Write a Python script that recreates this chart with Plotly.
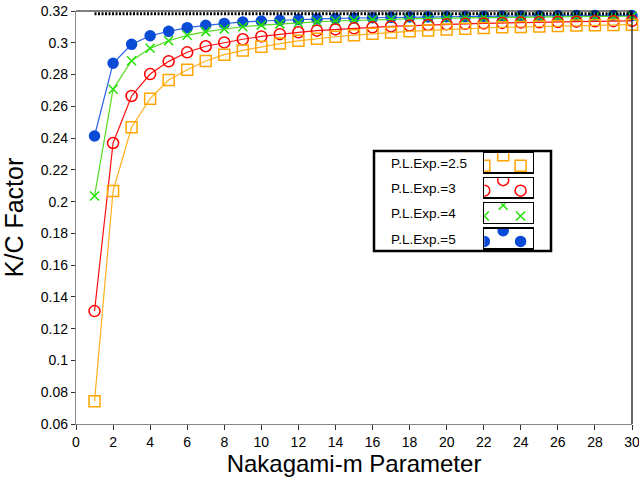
import plotly.graph_objects as go
import math

m_values = list(range(1, 31))

kc_exp_2_5 = [0.0744, 0.2067, 0.2468, 0.2648, 0.2765, 0.2830, 0.2885, 0.2925, 0.2952, 0.2975,
              0.2995, 0.3012, 0.3026, 0.3038, 0.3048, 0.3057, 0.3065, 0.3072, 0.3078, 0.3084,
              0.3089, 0.3093, 0.3097, 0.3100, 0.3103, 0.3106, 0.3108, 0.3110, 0.3112, 0.3114]
kc_exp_3 = [0.1311, 0.2369, 0.2665, 0.2803, 0.2883, 0.2940, 0.2978, 0.3002, 0.3022, 0.3040,
            0.3054, 0.3066, 0.3076, 0.3084, 0.3091, 0.3097, 0.3103, 0.3108, 0.3112, 0.3116,
            0.3119, 0.3122, 0.3125, 0.3127, 0.3129, 0.3131, 0.3133, 0.3135, 0.3136, 0.3138]
kc_exp_4 = [0.2035, 0.2707, 0.2887, 0.2965, 0.3013, 0.3047, 0.3070, 0.3087, 0.3101, 0.3111,
            0.3119, 0.3126, 0.3132, 0.3137, 0.3141, 0.3145, 0.3148, 0.3151, 0.3153, 0.3155,
            0.3157, 0.3158, 0.3160, 0.3161, 0.3162, 0.3163, 0.3164, 0.3165, 0.3166, 0.3167]
kc_exp_5 = [0.2413, 0.2871, 0.2990, 0.3044, 0.3072, 0.3095, 0.3110, 0.3122, 0.3131, 0.3137,
            0.3142, 0.3146, 0.3150, 0.3153, 0.3156, 0.3158, 0.3160, 0.3162, 0.3163, 0.3164,
            0.3165, 0.3166, 0.3167, 0.3168, 0.3169, 0.3170, 0.3171, 0.3171, 0.3172, 0.3172]
bound_x = [1, 30]
bound_y = [1 / math.pi, 1 / math.pi]

series_names = ["P.L.Exp.=2.5", "P.L.Exp.=3", "P.L.Exp.=4", "P.L.Exp.=5"]

x_tick_vals = list(range(0, 31, 2))
x_tick_text = [str(v) for v in x_tick_vals]
y_tick_vals = [0.06, 0.08, 0.1, 0.12, 0.14, 0.16, 0.18, 0.2, 0.22, 0.24, 0.26, 0.28, 0.3, 0.32]
y_tick_text = ["0.06", "0.08", "0.1", "0.12", "0.14", "0.16", "0.18", "0.2", "0.22", "0.24",
               "0.26", "0.28", "0.3", "0.32"]

FONT = "Liberation Sans, Arial, sans-serif"

styles = {
    "P.L.Exp.=2.5": dict(color="#FFA500", line="#FFB020", symbol="square-open", size=11),
    "P.L.Exp.=3": dict(color="#FF0000", line="#FF1010", symbol="circle-open", size=11),
    "P.L.Exp.=4": dict(color="#22E000", line="#55DD22", symbol="x-thin-open", size=9),
    "P.L.Exp.=5": dict(color="#0A4BD6", line="#2D63E6", symbol="circle", size=10),
}
data_map = {
    "P.L.Exp.=2.5": kc_exp_2_5,
    "P.L.Exp.=3": kc_exp_3,
    "P.L.Exp.=4": kc_exp_4,
    "P.L.Exp.=5": kc_exp_5,
}

fig = go.Figure()

for name in ["P.L.Exp.=5", "P.L.Exp.=4", "P.L.Exp.=3", "P.L.Exp.=2.5"]:
    s = styles[name]
    fig.add_trace(go.Scatter(
        x=m_values, y=data_map[name], mode="lines+markers", name=name,
        line=dict(color=s["line"], width=1.2),
        marker=dict(symbol=s["symbol"], size=s["size"], color=s["color"],
                    line=dict(color=s["color"], width=1.5)),
        showlegend=False, cliponaxis=False,
    ))

fig.add_trace(go.Scatter(
    x=bound_x, y=bound_y, mode="lines",
    line=dict(color="black", width=3, dash="2px,1.5px"),
    showlegend=False, hoverinfo="skip",
))

FIG_W, FIG_H = 639, 483
# plot area in pixels
L, R, T, B = 76, 632, 11, 424
W, H = R - L, B - T


def px(x):
    return (x - L) / W


def py(y):
    return (B - y) / H


shapes = []
annotations = []
# top and right black frame
shapes.append(dict(type="line", xref="paper", yref="paper", x0=0, x1=1, y0=1, y1=1,
                   line=dict(color="black", width=1.2)))
shapes.append(dict(type="line", xref="paper", yref="paper", x0=1, x1=1, y0=0, y1=1,
                   line=dict(color="black", width=1.2)))

# legend outer box
shapes.append(dict(type="rect", xref="paper", yref="paper",
                   x0=px(374), x1=px(551), y0=py(251), y1=py(151),
                   line=dict(color="black", width=2.5), fillcolor="rgba(255,255,255,0)"))

box_rows = [(153.3, 172.3), (178.3, 197.3), (203.3, 222.7), (228.7, 248.3)]
box_x0, box_x1 = 484.3, 532.7
legend_names = series_names

layout_axes = {}
for i, (name, (top, bot)) in enumerate(zip(legend_names, box_rows)):
    s = styles[name]
    ax_n = i + 2
    xa = f"xaxis{ax_n}"
    ya = f"yaxis{ax_n}"
    layout_axes[xa] = dict(domain=[px(box_x0), px(box_x1)], range=[0, 1], anchor=f"y{ax_n}",
                           showline=True, mirror=True, linecolor="black", linewidth=1.3,
                           showticklabels=False, ticks="", showgrid=False, zeroline=False,
                           fixedrange=True, automargin=False)
    layout_axes[ya] = dict(domain=[py(bot), py(top)], range=[0, 1], anchor=f"x{ax_n}",
                           showline=True, mirror=True, linecolor="black", linewidth=1.3,
                           showticklabels=False, ticks="", showgrid=False, zeroline=False,
                           fixedrange=True, automargin=False)
    fig.add_trace(go.Scatter(
        x=[0, 0.39, 0.75], y=[0.35, 0.9, 0.35], mode="markers",
        xaxis=f"x{ax_n}", yaxis=f"y{ax_n}",
        marker=dict(symbol=s["symbol"], size=s["size"], color=s["color"],
                    line=dict(color=s["color"], width=1.5)),
        showlegend=False, cliponaxis=True, hoverinfo="skip",
    ))
    annotations.append(dict(xref="paper", yref="paper", x=px(389), y=py((top + bot) / 2 + 0.5),
                            xanchor="left", yanchor="middle", text=name, showarrow=False,
                            font=dict(family=FONT, size=13.5, color="black")))

fig.update_layout(
    width=FIG_W, height=FIG_H,
    margin=dict(l=L, r=FIG_W - R, t=T, b=FIG_H - B, autoexpand=False),
    paper_bgcolor="white", plot_bgcolor="white",
    font=dict(family=FONT, size=14, color="black"),
    xaxis=dict(range=[0, 30], tickvals=x_tick_vals, ticktext=x_tick_text, automargin=False,
               ticks="outside", ticklen=5, tickwidth=1, tickcolor="#333",
               ticklabeloverflow="allow",
               showline=True, linecolor="#888", linewidth=1.2, showgrid=False, zeroline=False,
               tickfont=dict(family=FONT, size=14, color="black"),
               title=dict(text="Nakagami-m Parameter", font=dict(family=FONT, size=24, color="black"),
                          standoff=6)),
    yaxis=dict(range=[0.06, 0.32], tickvals=y_tick_vals, ticktext=y_tick_text, automargin=False,
               ticks="outside", ticklen=4, tickwidth=1, tickcolor="#333",
               ticklabeloverflow="allow",
               showline=True, linecolor="#888", linewidth=1.2, showgrid=False, zeroline=False,
               tickfont=dict(family=FONT, size=14, color="black"),
               title=dict(text="K/C Factor", font=dict(family=FONT, size=25, color="black"),
                          standoff=13)),
    shapes=shapes,
    annotations=annotations,
    showlegend=False,
    hovermode=False,
    **layout_axes,
)

fig.write_html("out.html", config={"displayModeBar": False, "staticPlot": True},
               post_script="document.body.style.margin='0';document.body.style.overflow='hidden';")
